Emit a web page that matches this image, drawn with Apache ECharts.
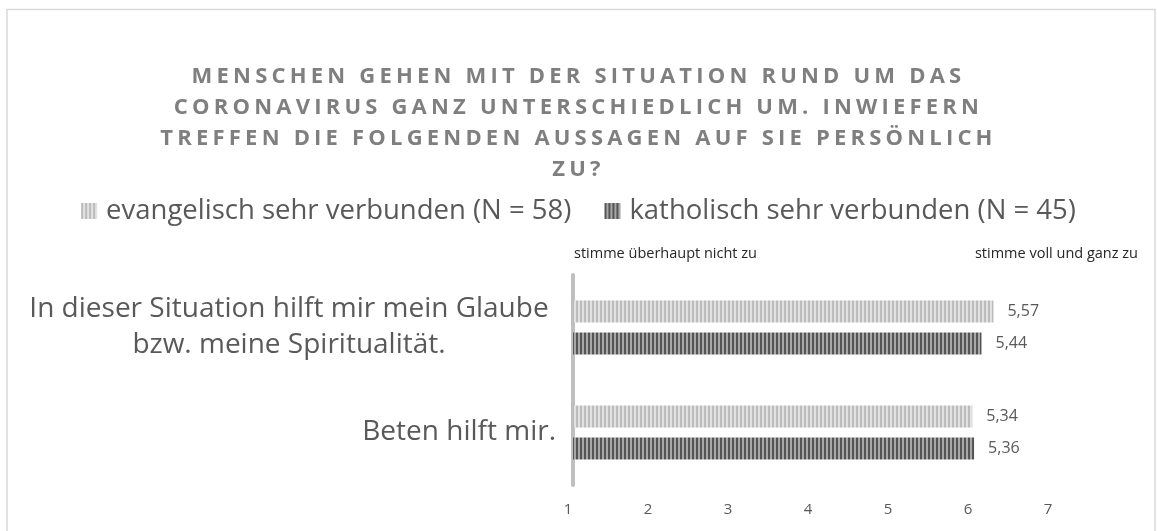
<!DOCTYPE html>
<html>
<head>
<meta charset="utf-8">
<script src="https://cdn.jsdelivr.net/npm/echarts@6/dist/echarts.min.js"></script>
<style>
  html, body { margin: 0; padding: 0; background: #ffffff; }
  #chart { width: 1157px; height: 531px; }
</style>
</head>
<body>
<div id="chart"></div>
<script>
// ---- data ----
const titleLines = [
  'MENSCHEN GEHEN MIT DER SITUATION RUND UM DAS',
  'CORONAVIRUS GANZ UNTERSCHIEDLICH UM. INWIEFERN',
  'TREFFEN DIE FOLGENDEN AUSSAGEN AUF SIE PERSÖNLICH',
  'ZU?'
];
const categories = [
  'In dieser Situation hilft mir mein Glaube\nbzw. meine Spiritualität.',
  'Beten hilft mir.'
];
const seriesNames = [
  'evangelisch sehr verbunden (N = 58)',
  'katholisch sehr verbunden (N = 45)'
];
const evangelischValues = [5.57, 5.34];
const katholischValues = [5.44, 5.36];
const tickLabels = [1, 2, 3, 4, 5, 6, 7];
const scaleLeftText = 'stimme überhaupt nicht zu';
const scaleRightText = 'stimme voll und ganz zu';

// ---- letter-spaced title text (only the bold 22px title font) ----
(function () {
  const proto = CanvasRenderingContext2D.prototype;
  const orig = proto.fillText;
  proto.fillText = function (t, x, y, w) {
    if ('letterSpacing' in this && /(bold|700)/.test(this.font) && /\b22px/.test(this.font)) {
      const prev = this.letterSpacing;
      this.letterSpacing = '4.2px';
      const r = orig.apply(this, arguments);
      this.letterSpacing = prev;
      return r;
    }
    return orig.apply(this, arguments);
  };
})();

// ---- stripe patterns ----
function stripes(c1, c2) {
  const cv = document.createElement('canvas');
  cv.width = 4; cv.height = 4;
  const ctx = cv.getContext('2d');
  ctx.fillStyle = c2; ctx.fillRect(0, 0, 4, 4);
  ctx.fillStyle = c1; ctx.fillRect(0, 0, 2, 4);
  return { image: cv, repeat: 'repeat' };
}
const lightPattern = stripes('#bcbcbc', '#e2e2e2');
const darkPattern = stripes('#555555', '#a8a8a8');

const FONT = '"Open Sans", sans-serif';
const chart = echarts.init(document.getElementById('chart'), null, { renderer: 'canvas' });

const labelFmt = p => String(p.value.toFixed(2)).replace('.', ',');

chart.setOption({
  animation: false,
  backgroundColor: '#ffffff',
  title: {
    text: titleLines.join('\n'),
    left: 'center',
    top: 56,
    textStyle: {
      fontFamily: FONT, fontWeight: 'bold', fontSize: 22,
      color: '#7f7f7f', lineHeight: 31, align: 'center'
    }
  },
  legend: {
    top: 192,
    left: 'center',
    itemWidth: 16, itemHeight: 16, itemGap: 33,
    icon: 'rect',
    textStyle: { fontFamily: FONT, fontSize: 27.5, color: '#595959', padding: [0, 0, 0, 4] },
    data: seriesNames
  },
  graphic: [
    { type: 'rect', silent: true, z: -1,
      shape: { x: 7, y: 9.5, width: 1148, height: 540 },
      style: { fill: 'none', stroke: '#d9d9d9', lineWidth: 1.5 } },
    { type: 'text', left: 574, top: 246,
      style: { text: scaleLeftText, fontFamily: FONT, fontSize: 14.5, fill: '#262626' } },
    { type: 'text', right: 19, top: 246,
      style: { text: scaleRightText, fontFamily: FONT, fontSize: 14.5, fill: '#262626' } }
  ],
  grid: [
    { left: 573, right: 32, top: 275, bottom: 46 },
    { left: 568, right: 109, top: 488, height: 2 }
  ],
  xAxis: [
    { type: 'value', gridIndex: 0, min: 1, max: 7, show: false },
    { type: 'value', gridIndex: 1, min: 1, max: 7, interval: 1,
      axisLine: { show: false }, axisTick: { show: false }, splitLine: { show: false },
      axisLabel: { margin: 12, fontFamily: FONT, fontSize: 15, color: '#595959',
        formatter: v => (tickLabels.indexOf(v) >= 0 ? String(v) : '') } }
  ],
  yAxis: [
    { type: 'category', gridIndex: 0, inverse: true, data: categories,
      axisLine: { show: true, lineStyle: { color: '#bfbfbf', width: 4 } },
      axisTick: { show: false },
      axisLabel: {
        margin: 17, fontFamily: FONT, fontSize: 28, color: '#595959', align: 'right',
        formatter: v => {
          const parts = v.split('\n');
          if (parts.length > 1) return parts.map(s => '{c|' + s + '}').join('\n');
          return '{r|' + v + '}';
        },
        rich: {
          c: { width: 534, align: 'center', fontFamily: FONT, fontSize: 28, color: '#595959', lineHeight: 36 },
          r: { fontFamily: FONT, fontSize: 28, color: '#595959', lineHeight: 36 }
        }
      }
    },
    { type: 'value', gridIndex: 1, show: false }
  ],
  series: [
    { name: seriesNames[0], type: 'bar', xAxisIndex: 0, yAxisIndex: 0,
      data: evangelischValues, barWidth: 22, barGap: '45%',
      itemStyle: { color: lightPattern },
      label: { show: true, position: 'right', distance: 14, fontFamily: FONT, fontSize: 16,
        color: '#595959', formatter: labelFmt } },
    { name: seriesNames[1], type: 'bar', xAxisIndex: 0, yAxisIndex: 0,
      data: katholischValues, barWidth: 22, barGap: '45%',
      itemStyle: { color: darkPattern },
      label: { show: true, position: 'right', distance: 14, fontFamily: FONT, fontSize: 16,
        color: '#595959', formatter: labelFmt } }
  ]
});
</script>
</body>
</html>
